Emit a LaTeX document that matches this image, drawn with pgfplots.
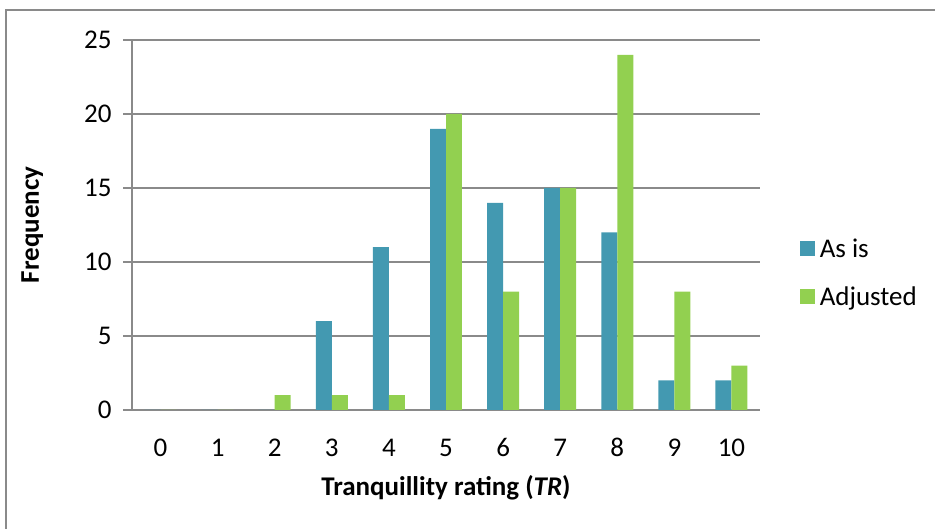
\documentclass[border=0pt]{standalone}
\usepackage{pgfplots}
\pgfplotsset{compat=1.18}
\usepackage{fontspec}
\setmainfont{Carlito}
\definecolor{asis}{HTML}{4399B1}
\definecolor{adj}{HTML}{92D050}
\definecolor{gridc}{HTML}{8A8A8A}
\begin{document}
\begin{tikzpicture}[x=1pt,y=1pt]
\useasboundingbox (0,0) rectangle (935,529);
\draw[gridc, line width=2pt] (6,-10) rectangle (945,519);
\begin{axis}[
  at={(132pt,119pt)}, anchor=south west,
  scale only axis, width=628pt, height=370pt,
  xmin=-0.5, xmax=10.5, ymin=0, ymax=25,
  ybar=0pt, bar width=0.28,
  xtick={0,...,10},
  ytick={0,5,...,25},
  extra x ticks={-0.5,0.5,...,10.5},
  extra x tick labels={},
  extra x tick style={major tick length=9pt, tick style={gridc, line width=1.5pt}},
  x tick style={draw=none},
  y tick style={gridc, line width=1.5pt},
  major tick length=9pt,
  tick align=outside,
  axis line style={gridc, line width=1.5pt},
  axis x line*=bottom, axis y line*=left,
  ymajorgrids, grid style={gridc, line width=1.5pt},
  /pgf/number format/assume math mode=true,
  ticklabel style={font=\fontsize{27}{32}\selectfont},
  xticklabel style={anchor=base, yshift=-38pt},
  yticklabel style={anchor=east, xshift=-8pt},
  xlabel={\textbf{Tranquillity rating (\textit{TR})}},
  ylabel={\textbf{Frequency}},
  label style={font=\fontsize{27}{32}\selectfont},
  xlabel style={at={(axis description cs:0.5,-0.211)}, anchor=center},
  ylabel style={at={(axis description cs:-0.159,0.5)}, anchor=center},
  legend style={at={(1.063,0.37)}, anchor=west, draw=none, fill=none,
    font=\fontsize{27}{32}\selectfont, row sep=24pt, inner sep=0pt,
    nodes={inner xsep=5pt}},
  legend cell align=left,
  legend image code/.code={\fill[#1] (0pt,-7pt) rectangle (15pt,8pt);},
]
\addplot[fill=asis, draw=none] coordinates {(0,0) (1,0) (2,0) (3,6) (4,11) (5,19) (6,14) (7,15) (8,12) (9,2) (10,2)};
\addplot[fill=adj, draw=none] coordinates {(0,0) (1,0) (2,1) (3,1) (4,1) (5,20) (6,8) (7,15) (8,24) (9,8) (10,3)};
\legend{As is, Adjusted}
\end{axis}
\end{tikzpicture}
\end{document}
